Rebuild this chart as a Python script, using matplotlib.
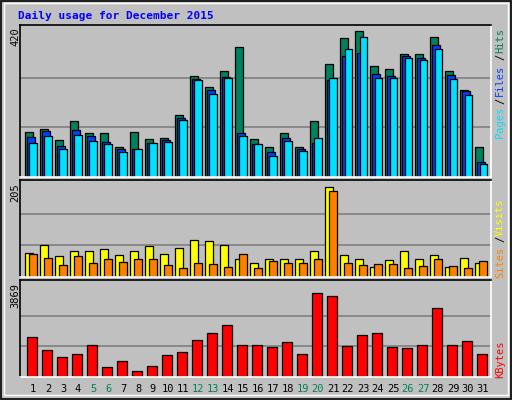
import matplotlib
matplotlib.use("Agg")
import matplotlib.pyplot as plt
from matplotlib.patches import Rectangle
import numpy as np

days = list(range(1, 32))
hits = [126,135,104,157,124,124,85,126,107,110,174,286,255,298,366,107,85,124,85,157,319,392,411,313,305,347,347,394,300,246,85]
files = [113,129,87,132,115,99,79,79,96,104,167,277,246,283,124,93,71,110,79,96,274,341,350,291,286,341,336,372,288,241,43]
pages = [96,115,79,118,101,93,71,79,96,99,160,272,233,280,115,93,60,101,73,110,280,361,394,280,280,336,329,361,277,230,37]
sites = [51,68,45,57,55,61,47,55,66,49,63,80,78,68,38,30,38,38,38,55,193,47,38,22,36,57,38,47,22,40,30]
visits = [49,40,26,45,30,38,32,38,38,26,20,30,28,22,49,20,34,30,30,38,185,30,26,28,28,20,24,38,24,20,34]
kbytes = [1685,1140,829,985,1374,402,674,246,480,946,1063,1568,1840,2190,1374,1374,1257,1490,985,3551,3434,1296,1763,1840,1257,1218,1374,2929,1374,1529,985]
weekends = [5, 6, 12, 13, 19, 20, 26, 27]
max_hits, max_sites, max_kb = 420, 205, 3869

W, H = 512, 400
fig = plt.figure(figsize=(W/100, H/100), dpi=100, facecolor="#C0C0C0")
mono = "DejaVu Sans Mono"

def px_axes(x0, y0, x1, y1):
    ax = fig.add_axes([x0/W, 1-y1/H, (x1-x0)/W, (y1-y0)/H])
    ax.set_facecolor("#C0C0C0")
    ax.set_xlim(0.2, 31.58)
    ax.set_xticks([]); ax.set_yticks([])
    for s in ("left", "top"):
        ax.spines[s].set_color("black")
    for s in ("right", "bottom"):
        ax.spines[s].set_color("white")
    for s in ax.spines.values():
        s.set_linewidth(1.2)
    return ax

# outer bevel
fig.add_artist(Rectangle((0.002, 0.002), 0.996, 0.996, transform=fig.transFigure,
                         fill=False, edgecolor="black", lw=1.2))
fig.add_artist(Rectangle((0.008, 0.012), 0.984, 0.98, transform=fig.transFigure,
                         fill=False, edgecolor="white", lw=1.0))

d = np.array(days, dtype=float)
w = 7.7/15

# top
ax1 = px_axes(20, 25, 491, 177)
ax1.set_ylim(0, max_hits*1.02)
for g in (max_hits/3, 2*max_hits/3):
    ax1.axhline(g, color="#808080", lw=1.2, zorder=0)
ax1.bar(d - 7/15, hits, width=w, align="edge", color="#00805C", edgecolor="black", lw=0.9)
ax1.bar(d - 5/15, files, width=w, align="edge", color="#0040FF", edgecolor="black", lw=0.9)
ax1.bar(d - 2.7/15, pages, width=w, align="edge", color="#00E0FF", edgecolor="black", lw=0.9)

# middle
ax2 = px_axes(20, 180, 491, 277)
ax2.set_ylim(0, max_sites*1.02)
for g in (max_sites/3, 2*max_sites/3):
    ax2.axhline(g, color="#808080", lw=1.2, zorder=0)
ax2.bar(d - 7/15, sites, width=w, align="edge", color="#FFFF00", edgecolor="black", lw=0.9)
ax2.bar(d - 3/15, visits, width=w, align="edge", color="#FF8000", edgecolor="black", lw=0.9)

# bottom
ax3 = px_axes(20, 280, 491, 377)
ax3.set_ylim(0, max_kb*1.06)
for g in (max_kb/3, 2*max_kb/3):
    ax3.axhline(g, color="#808080", lw=1.2, zorder=0)
ax3.bar(d - 5/15, kbytes, width=10/15, align="edge", color="#FF0000", edgecolor="black", lw=0.9)

def ftext(x, y, s, fontsize=7.5, **kw):
    fig.text(x/W, 1-y/H, s, family=mono, fontsize=fontsize, **kw)

ftext(18, 16, "Daily usage for December 2015", color="#0000FF", weight="bold", va="center", fontsize=8)
ftext(15, 27, str(max_hits), rotation=90, ha="center", va="top")
ftext(15, 183, str(max_sites), rotation=90, ha="center", va="top")
ftext(15, 283, str(max_kb), rotation=90, ha="center", va="top")

for day in days:
    x = 33 + (day - 1)*15
    ftext(x, 389, str(day), ha="center", va="center",
          color="#00805C" if day in weekends else "black")

rx = 500
for s, c, yb in [("Pages", "#00E0FF", 138), ("/", "black", 104), ("Files", "#0040FF", 96),
                 ("/", "black", 60), ("Hits", "#00805C", 53),
                 ("Sites", "#FF8000", 278), ("/", "black", 242), ("Visits", "#FFFF00", 236),
                 ("KBytes", "#FF0000", 378)]:
    ftext(rx, yb, s, rotation=90, ha="center", va="bottom", color=c)

fig.savefig("out.png", dpi=100, facecolor=fig.get_facecolor())
